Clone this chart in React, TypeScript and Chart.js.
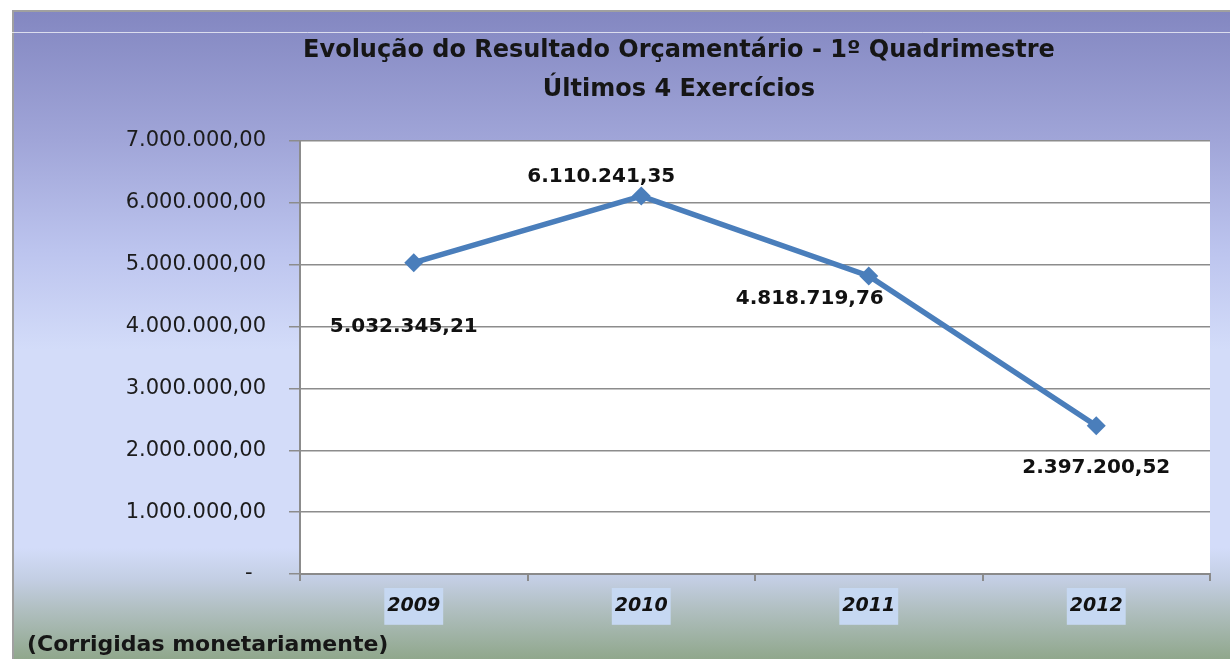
import React, { useEffect, useRef } from "react";
import { Chart, registerables } from "chart.js";

Chart.register(...registerables);

const categories = ["2009", "2010", "2011", "2012"];
const resultado = [5032345.21, 6110241.35, 4818719.76, 2397200.52];
const yTicks = [0, 1000000, 2000000, 3000000, 4000000, 5000000, 6000000, 7000000];
const titleLines = ["Evolução do Resultado Orçamentário - 1º Quadrimestre", "Últimos 4 Exercícios"];
const footnote = "(Corrigidas monetariamente)";
// label offsets relative to each point (dx, dy)
const labelOffsets = [
  [-10, 64],
  [-40, -19],
  [-59, 23],
  [0, 42],
];

const FONT = "'DejaVu Sans', sans-serif";

function fmtBR(v: number): string {
  const neg = v < 0;
  const abs = Math.abs(v);
  const fixed = abs.toFixed(2);
  const [intPart, dec] = fixed.split(".");
  const withSep = intPart.replace(/\B(?=(\d{3})+(?!\d))/g, ".");
  return (neg ? "-" : "") + withSep + "," + dec;
}

const backgroundPlugin = {
  id: "bgFrame",
  beforeDraw(chart: any) {
    const { ctx, width, height, chartArea } = chart;
    ctx.save();
    ctx.fillStyle = "#ffffff";
    ctx.fillRect(0, 0, width, height);
    const top = 11;
    const g = ctx.createLinearGradient(0, top, 0, height);
    const h = height - top;
    const stop = (y: number) => Math.min(1, Math.max(0, (y - top) / h));
    g.addColorStop(0, "#8387c1");
    g.addColorStop(stop(140), "#a0a5d8");
    g.addColorStop(stop(250), "#bcc4ee");
    g.addColorStop(stop(350), "#d3dcf9");
    g.addColorStop(stop(548), "#d3dcf9");
    g.addColorStop(stop(580), "#c3cee3");
    g.addColorStop(stop(610), "#b0bfc0");
    g.addColorStop(1, "#90a78c");
    ctx.fillStyle = g;
    ctx.fillRect(12, top, width - 12, h);
    // frame border
    ctx.strokeStyle = "#a0a0a0";
    ctx.lineWidth = 2;
    ctx.beginPath();
    ctx.moveTo(13, height);
    ctx.lineTo(13, top);
    ctx.lineTo(width, top);
    ctx.stroke();
    // thin white line
    ctx.strokeStyle = "rgba(255,255,255,0.7)";
    ctx.lineWidth = 1;
    ctx.beginPath();
    ctx.moveTo(0, 32.5);
    ctx.lineTo(width, 32.5);
    ctx.stroke();
    // plot area
    ctx.fillStyle = "#ffffff";
    ctx.fillRect(chartArea.left, chartArea.top, chartArea.right - chartArea.left, chartArea.bottom - chartArea.top);
    // title
    ctx.fillStyle = "#161616";
    ctx.textAlign = "center";
    ctx.textBaseline = "middle";
    ctx.font = `bold 24px ${FONT}`;
    ctx.fillText(titleLines[0], 679, 51);
    ctx.fillText(titleLines[1], 679, 90);
    // footnote
    ctx.textAlign = "left";
    ctx.font = `bold 22px ${FONT}`;
    ctx.fillText(footnote, 27, 645);
    ctx.restore();
  },
};

const valueLabelPlugin = {
  id: "valueLabels",
  afterDatasetsDraw(chart: any) {
    const { ctx } = chart;
    const meta = chart.getDatasetMeta(0);
    const data = chart.data.datasets[0].data as number[];
    ctx.save();
    ctx.font = `bold 20px ${FONT}`;
    ctx.fillStyle = "#111111";
    ctx.textAlign = "center";
    ctx.textBaseline = "middle";
    meta.data.forEach((pt: any, i: number) => {
      const [dx, dy] = labelOffsets[i] || [0, 0];
      ctx.fillText(fmtBR(data[i]), pt.x + dx, pt.y + dy);
    });
    ctx.restore();
  },
};

export default function App() {
  const ref = useRef<HTMLCanvasElement | null>(null);

  useEffect(() => {
    if (!ref.current) return;
    const chart = new Chart(ref.current, {
      type: "line",
      data: {
        labels: categories,
        datasets: [
          {
            data: resultado,
            borderColor: "#4a7ebb",
            backgroundColor: "#4a7ebb",
            borderWidth: 5.5,
            pointStyle: "rectRot",
            pointRadius: 9.5,
            pointHoverRadius: 9.5,
            pointBorderWidth: 0,
            tension: 0,
          },
        ],
      },
      options: {
        responsive: false,
        animation: false,
        devicePixelRatio: 1,
        layout: { padding: { left: 0, top: 141, right: 20, bottom: 0 } },
        plugins: {
          legend: { display: false },
          title: { display: false },
          tooltip: { enabled: false },
        },
        scales: {
          x: {
            type: "category",
            offset: true,
            grid: {
              offset: true,
              drawOnChartArea: false,
              drawTicks: true,
              tickLength: 7,
              color: "#8a8a8a",
              lineWidth: 2,
            },
            border: { display: true, color: "#8a8a8a", width: 2 },
            ticks: {
              padding: 14,
              color: "#111111",
              font: { family: FONT, size: 19, weight: "bold", style: "italic" },
              showLabelBackdrop: true,
              backdropColor: "#c6d8f2",
              backdropPadding: { left: 3, right: 3, top: 7, bottom: 7 },
              maxRotation: 0,
            },
            afterFit(scale: any) {
              scale.height = 85;
            },
          },
          y: {
            min: 0,
            max: 7000000,
            afterBuildTicks(scale: any) {
              scale.ticks = yTicks.map((v) => ({ value: v }));
            },
            grid: {
              color: "#8c8c8c",
              lineWidth: 1.5,
              tickLength: 11,
              drawTicks: true,
            },
            border: { display: true, color: "#8c8c8c", width: 2 },
            ticks: {
              padding: 23,
              color: "#1c1c1c",
              font: { family: FONT, size: 21 },
              callback: (v: any) => (Number(v) === 0 ? "-  " : fmtBR(Number(v))),
            },
            afterFit(scale: any) {
              scale.width = 300;
            },
          },
        },
      },
      plugins: [backgroundPlugin, valueLabelPlugin],
    });
    return () => chart.destroy();
  }, []);

  return (
    <div style={{ position: "fixed", left: 0, top: 0, width: 1230, height: 659 }}>
      <canvas ref={ref} width={1230} height={659} style={{ display: "block", width: 1230, height: 659 }} />
    </div>
  );
}
